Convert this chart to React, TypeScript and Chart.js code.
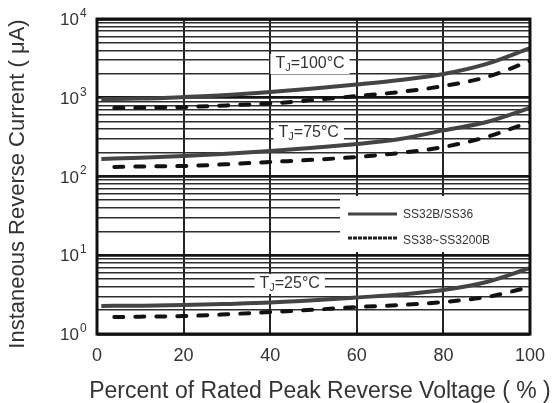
import React, { useEffect, useRef } from "react";
import { Chart, registerables } from "chart.js";

Chart.register(...registerables);

// ---- data ----
const solidX = [1, 10, 20, 30, 40, 50, 60, 70, 80, 90, 100];
const dashX = [4, 10, 20, 30, 40, 50, 60, 70, 80, 90, 100];

const solid100 = [965, 975, 1020, 1084, 1183, 1310, 1473, 1680, 2000, 2690, 4270];
const dashed100 = [741, 750, 763, 800, 846, 936, 1052, 1183, 1410, 1834, 2930];
const solid75 = [167, 173, 182, 195, 211, 232, 259, 299, 385, 492, 741];
const dashed75 = [132, 134, 136, 143, 153, 163, 177, 199, 237, 318, 492];
const solid25 = [2.27, 2.29, 2.33, 2.41, 2.51, 2.68, 2.91, 3.17, 3.62, 4.57, 6.89];
const dashed25 = [1.64, 1.66, 1.69, 1.78, 1.9, 2.03, 2.2, 2.33, 2.55, 2.95, 3.95];

const xTicks = [0, 20, 40, 60, 80, 100];
const yDecades = [1, 10, 100, 1000, 10000];
const yExponents = ["0", "1", "2", "3", "4"];

const tempLabels = [
  { temp: "100°C", x: 49.2, y: 2683 },
  { temp: "75°C", x: 48.9, y: 357 },
  { temp: "25°C", x: 44.5, y: 4.31 },
];

const legendItems = [
  { label: "SS32B/SS36", dashed: false },
  { label: "SS38~SS3200B", dashed: true },
];

const xTitle = "Percent of Rated Peak Reverse Voltage ( % )";
const yTitle = "Instaneous Reverse Current ( μA)";

const FONT = '"Liberation Sans", Arial, sans-serif';
const TEXT = "#333";

function pts(xs: number[], ys: number[]) {
  return xs.map((x, i) => ({ x, y: ys[i] }));
}

function isPow10(v: number) {
  const l = Math.log10(v);
  return Math.abs(l - Math.round(l)) < 1e-9;
}

const decorPlugin = {
  id: "decor",
  beforeDatasetsDraw(chart: any) {
    const ctx = chart.ctx;
    const xs = chart.scales.x;
    const ys = chart.scales.y;
    const area = chart.chartArea;
    ctx.save();
    // legend background
    ctx.fillStyle = "#fff";
    ctx.fillRect(340, 196, area.right - 340, 56);
    // temperature labels
    tempLabels.forEach((t) => {
      const cx = xs.getPixelForValue(t.x);
      const cy = ys.getPixelForValue(t.y);
      ctx.font = "16px " + FONT;
      const wT = ctx.measureText("T").width;
      const wR = ctx.measureText("=" + t.temp).width;
      ctx.font = "11px " + FONT;
      const wJ = ctx.measureText("J").width;
      const total = wT + wJ + wR;
      const sx = cx - total / 2;
      ctx.fillStyle = "#fff";
      ctx.fillRect(sx - 5, cy - 10, total + 10, 20);
      ctx.fillStyle = TEXT;
      ctx.textBaseline = "middle";
      ctx.textAlign = "left";
      ctx.font = "16px " + FONT;
      ctx.fillText("T", sx, cy);
      ctx.font = "11px " + FONT;
      ctx.fillText("J", sx + wT, cy + 4);
      ctx.font = "16px " + FONT;
      ctx.fillText("=" + t.temp, sx + wT + wJ, cy);
    });
    ctx.restore();
  },
  afterDatasetsDraw(chart: any) {
    const ctx = chart.ctx;
    const a = chart.chartArea;
    ctx.save();
    ctx.strokeStyle = "#111";
    ctx.lineWidth = 3;
    ctx.strokeRect(a.left, a.top, a.right - a.left, a.bottom - a.top);
    ctx.restore();
  },
  afterDraw(chart: any) {
    const ctx = chart.ctx;
    const ys = chart.scales.y;
    ctx.save();
    ctx.fillStyle = TEXT;
    // y tick labels 10^n
    yDecades.forEach((v, i) => {
      const py = ys.getPixelForValue(v) + 1.5;
      ctx.font = "17px " + FONT;
      ctx.textAlign = "right";
      ctx.textBaseline = "middle";
      ctx.fillText("10", 79, py);
      ctx.font = "12px " + FONT;
      ctx.textAlign = "left";
      ctx.fillText(yExponents[i], 80, py - 7);
    });
    // legend
    legendItems.forEach((it, i) => {
      const py = 214 + i * 24;
      ctx.beginPath();
      ctx.moveTo(348, py);
      ctx.lineTo(397, py);
      ctx.lineWidth = 3;
      ctx.strokeStyle = it.dashed ? "#222" : "#444";
      ctx.setLineDash(it.dashed ? [4, 1] : []);
      ctx.stroke();
      ctx.setLineDash([]);
      ctx.font = "12px " + FONT;
      ctx.textAlign = "left";
      ctx.textBaseline = "middle";
      ctx.fillStyle = TEXT;
      ctx.fillText(it.label, 403, py + 1 + i * 2);
    });
    // titles
    ctx.font = "23px " + FONT;
    ctx.textAlign = "center";
    ctx.textBaseline = "middle";
    ctx.fillText(xTitle, 320, 392);
    ctx.font = "22px " + FONT;
    ctx.translate(18, 184);
    ctx.rotate(-Math.PI / 2);
    ctx.fillText(yTitle, 0, 0);
    ctx.restore();
  },
};

export default function App() {
  const ref = useRef<HTMLCanvasElement | null>(null);
  useEffect(() => {
    document.body.style.margin = "0";
    if (!ref.current) return;
    const solidStyle = {
      borderColor: "#444",
      borderWidth: 4,
      pointRadius: 0,
      fill: false,
      cubicInterpolationMode: "monotone" as const,
    };
    const dashStyle = {
      borderColor: "#111",
      borderWidth: 4,
      borderDash: [9, 12],
      borderCapStyle: "round" as const,
      pointRadius: 0,
      fill: false,
      cubicInterpolationMode: "monotone" as const,
    };
    const chart = new Chart(ref.current, {
      type: "line",
      data: {
        datasets: [
          { label: "SS32B/SS36 100°C", data: pts(solidX, solid100), ...solidStyle },
          { label: "SS38~SS3200B 100°C", data: pts(dashX, dashed100), ...dashStyle },
          { label: "SS32B/SS36 75°C", data: pts(solidX, solid75), ...solidStyle },
          { label: "SS38~SS3200B 75°C", data: pts(dashX, dashed75), ...dashStyle },
          { label: "SS32B/SS36 25°C", data: pts(solidX, solid25), ...solidStyle },
          { label: "SS38~SS3200B 25°C", data: pts(dashX, dashed25), ...dashStyle },
        ],
      },
      options: {
        animation: false,
        responsive: true,
        maintainAspectRatio: false,
        layout: { padding: { top: 19, right: 21, left: 0, bottom: 0 } },
        plugins: { legend: { display: false }, tooltip: { enabled: false } },
        scales: {
          x: {
            type: "linear",
            min: 0,
            max: 100,
            afterBuildTicks: (s: any) => {
              s.ticks = xTicks.map((v) => ({ value: v }));
            },
            afterFit: (s: any) => {
              s.height = 69;
            },
            ticks: {
              color: TEXT,
              font: { family: FONT, size: 18 },
              padding: 11,
              maxRotation: 0,
              autoSkip: false,
            },
            grid: { color: "#222", lineWidth: 2, drawTicks: false },
            border: { display: false },
          },
          y: {
            type: "logarithmic",
            min: 1,
            max: 10000,
            afterBuildTicks: (s: any) => {
              const t: any[] = [];
              for (let e = 0; e < 4; e++) {
                for (let k = 1; k <= 9; k++) t.push({ value: k * Math.pow(10, e) });
              }
              t.push({ value: 10000 });
              s.ticks = t;
            },
            afterFit: (s: any) => {
              s.width = 97;
            },
            ticks: { display: false },
            grid: {
              color: (c: any) => (c.tick && isPow10(c.tick.value) ? "#151515" : "#2e2e2e"),
              lineWidth: (c: any) => (c.tick && isPow10(c.tick.value) ? 2.8 : 1.6),
              drawTicks: false,
            },
            border: { display: false },
          },
        },
      },
      plugins: [decorPlugin],
    } as any);
    return () => chart.destroy();
  }, []);
  return (
    <div style={{ width: 556, height: 403, position: "relative", background: "#fff" }}>
      <canvas ref={ref} />
    </div>
  );
}
